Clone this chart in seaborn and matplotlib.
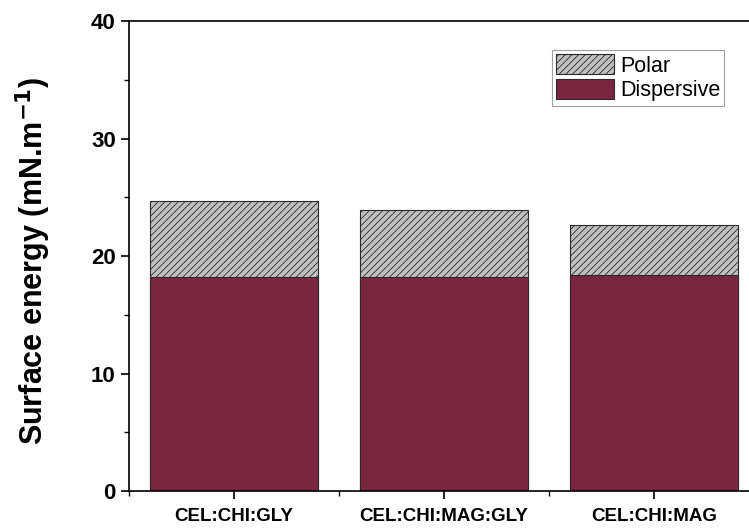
import matplotlib
matplotlib.use("Agg")
import matplotlib.pyplot as plt
import matplotlib.patches as mpatches
from matplotlib.ticker import MultipleLocator
import pandas as pd
import seaborn as sns

samples = ["CEL:CHI:GLY", "CEL:CHI:MAG:GLY", "CEL:CHI:MAG"]
dispersive = [18.2, 18.25, 18.4]
total = [24.7, 23.9, 22.65]

DISP_COLOR = "#7b2640"
POLAR_COLOR = "#c0c0c0"

sns.set_theme(style="ticks")
plt.rcParams["font.family"] = ["Liberation Sans", "DejaVu Sans"]
plt.rcParams["font.weight"] = "bold"
plt.rcParams["hatch.linewidth"] = 0.6
plt.rcParams["text.color"] = "black"
plt.rcParams["axes.labelcolor"] = "black"
plt.rcParams["xtick.color"] = "black"
plt.rcParams["ytick.color"] = "black"

df = pd.DataFrame({"sample": samples, "dispersive": dispersive, "total": total})

fig = plt.figure(figsize=(7.49, 5.29), dpi=100)
ax = fig.add_axes([0.1722, 0.0718, 0.8412, 0.8885])

# total height first (polar shows above dispersive)
sns.barplot(data=df, x="sample", y="total", color=POLAR_COLOR, width=0.8,
            edgecolor="#2a2a2a", linewidth=0.8, hatch="/////", saturation=1, ax=ax)
sns.barplot(data=df, x="sample", y="dispersive", color=DISP_COLOR, width=0.8,
            edgecolor="#2a2a2a", linewidth=0.8, saturation=1, ax=ax)

ax.set_xlim(-0.5, 2.5)
ax.set_ylim(0, 40)
ax.yaxis.set_major_locator(MultipleLocator(10))
ax.yaxis.set_minor_locator(MultipleLocator(5))
ax.xaxis.set_minor_locator(MultipleLocator(1, offset=0.5))
ax.tick_params(axis="both", which="major", direction="out", length=6, width=1.2,
               labelsize=16, color="black", labelcolor="black")
ax.tick_params(axis="both", which="minor", direction="out", length=3.5, width=1.0,
               color="black")
ax.tick_params(axis="x", labelsize=13.5, pad=6)
for lbl in ax.get_xticklabels() + ax.get_yticklabels():
    lbl.set_fontweight("bold")

for side in ["left", "bottom", "top", "right"]:
    ax.spines[side].set_visible(True)
    ax.spines[side].set_linewidth(1.2)
    ax.spines[side].set_color("black")

ax.set_xlabel("")
ax.set_ylabel("Surface energy (mN.m$^{\\mathbf{-1}}$)", fontsize=22, fontweight="bold",
              color="black")
ax.yaxis.set_label_coords(-0.12, 0.49)

handles = [
    mpatches.Patch(facecolor=POLAR_COLOR, edgecolor="#2a2a2a", hatch="/////",
                   linewidth=0.8, label="Polar"),
    mpatches.Patch(facecolor=DISP_COLOR, edgecolor="#2a2a2a", linewidth=0.8,
                   label="Dispersive"),
]
leg = ax.legend(handles=handles, loc="upper right", bbox_to_anchor=(0.945, 0.938),
                fontsize=15.5, frameon=True, fancybox=False, borderpad=0.2,
                handlelength=2.7, handleheight=1.05, handletextpad=0.25,
                labelspacing=0.1, borderaxespad=0)
leg.get_frame().set_edgecolor("#888888")
leg.get_frame().set_linewidth(0.8)
for t in leg.get_texts():
    t.set_fontweight("normal")
    t.set_color("black")

fig.savefig("out.png", dpi=100)
